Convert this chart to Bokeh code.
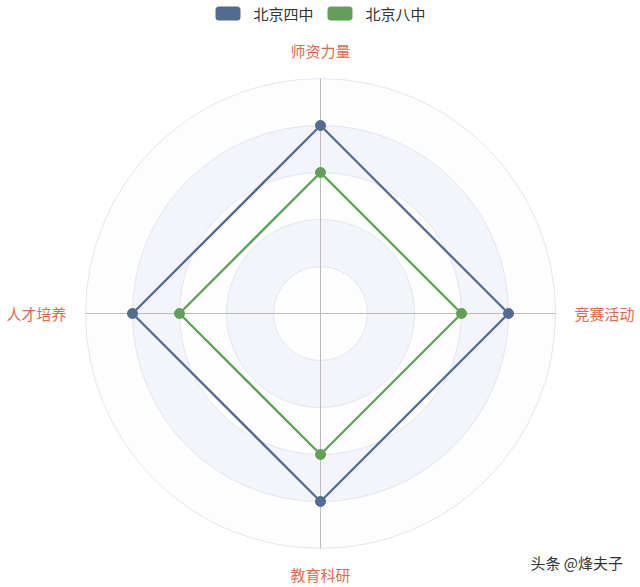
import numpy as np
from bokeh.plotting import figure
from bokeh.models import Range1d
from bokeh.core.properties import value
from bokeh.embed import file_html
from bokeh.resources import INLINE

# ---- data ----
indicators = ["师资力量", "人才培养", "教育科研", "竞赛活动"]   # counter-clockwise from top
indicator_max = [100, 100, 100, 100]
series_names = ["北京四中", "北京八中"]
beijing4 = [80, 80, 80, 80]
beijing8 = [60, 60, 60, 60]
colors = ["#516b91", "#62a05a"]
watermark = "头条 @烽夫子"

FONT = "Noto Sans CJK SC"
R = 235.0            # outer radius in px
N_SPLIT = 5

W, H = 640, 587
p = figure(width=W, height=H, output_backend="svg", toolbar_location=None,
           x_range=Range1d(-320, 320), y_range=Range1d(-274, 313),
           min_border=0, match_aspect=False)
p.axis.visible = False
p.grid.visible = False
p.outline_line_color = None
p.background_fill_color = "white"
p.border_fill_color = "white"

# split areas (alternating), drawn from outside in
area_cols = ["#fdfdfe", "#f4f5fa"]
for i in range(N_SPLIT, 0, -1):
    r = R * i / N_SPLIT
    p.circle(x=[0], y=[0], radius=r, fill_color=area_cols[(i - 1) % 2],
             line_color="#e0e6f1", line_width=1)

# axis lines
n = len(indicators)
ang = np.deg2rad(90 + np.arange(n) * 360.0 / n)
p.segment(x0=[0] * n, y0=[0] * n, x1=list(R * np.cos(ang)), y1=list(R * np.sin(ang)),
          line_color="#bbbbbb", line_width=1)

# series
for vals, col in [(beijing4, colors[0]), (beijing8, colors[1])]:
    rr = np.array(vals, dtype=float) / np.array(indicator_max) * R
    xs = list(rr * np.cos(ang)) + [rr[0] * np.cos(ang[0])]
    ys = list(rr * np.sin(ang)) + [rr[0] * np.sin(ang[0])]
    p.line(xs, ys, line_color=col, line_width=2.3, line_join="round")
    p.scatter(list(rr * np.cos(ang)), list(rr * np.sin(ang)), size=10,
              fill_color=col, line_color=col)

# indicator names
lab_col = "#dd6b4d"
for name, a in zip(indicators, ang):
    c, s = np.cos(a), np.sin(a)
    if abs(c) < 0.5:
        x, y = 0.0, (263 if s > 0 else -261)
        align = "center"
    else:
        x, y = (254 if c > 0 else -254), 0.0
        align = "left" if c > 0 else "right"
    p.text(x=[x], y=[y], text=[name], text_align=align, text_baseline="middle",
           text_font=value(FONT), text_font_size="15px", text_color=lab_col)

# legend (top)
leg_y = 313 - 13
leg_x = [215 - 320, 327 - 320]
for lx, nm, col in zip(leg_x, series_names, colors):
    p.rect(x=[lx + 12.5], y=[leg_y], width=18, height=7, fill_color=col,
           line_color=col, line_width=7, line_join="round")
    p.text(x=[lx + 38], y=[leg_y], text=[nm], text_align="left",
           text_baseline="middle", text_font=value(FONT), text_font_size="15px",
           text_color="#333333")

# watermark
p.text(x=[530 - 320], y=[313 - 562], text=[watermark], text_align="left",
       text_baseline="middle", text_font=value(FONT), text_font_size="15px",
       text_color="#333333")

open("out.html", "w").write(file_html(p, INLINE))
